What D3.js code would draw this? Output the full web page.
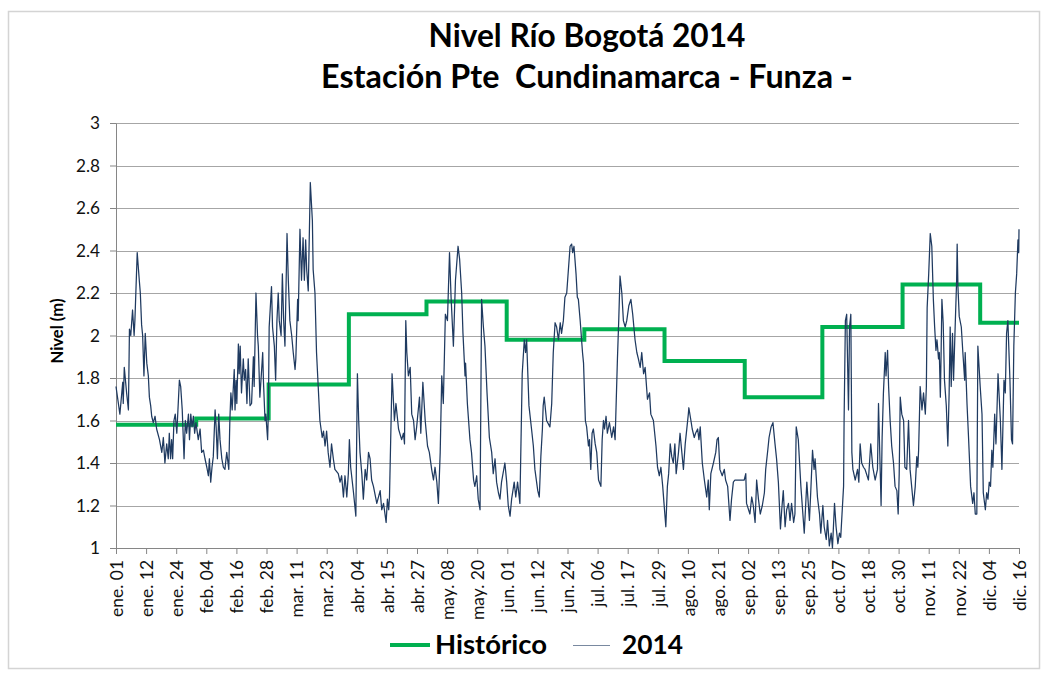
<!DOCTYPE html>
<html><head><meta charset="utf-8">
<script src="https://cdn.jsdelivr.net/npm/d3@7"></script>
<style>body{margin:0;background:#fff}svg{display:block}</style>
</head><body>
<svg id="c" width="1049" height="677"></svg>
<script>
// ---------- DATA ----------
const titleLines = ["Nivel Río Bogotá 2014", "Estación Pte  Cundinamarca - Funza -"];
const yAxisTitle = "Nivel (m)";
const yTicks = [1, 1.2, 1.4, 1.6, 1.8, 2, 2.2, 2.4, 2.6, 2.8, 3];
const xTickLabels = ["ene. 01","ene. 12","ene. 24","feb. 04","feb. 16","feb. 28","mar. 11","mar. 23",
  "abr. 04","abr. 15","abr. 27","may. 08","may. 20","jun. 01","jun. 12","jun. 24","jul. 06","jul. 17",
  "jul. 29","ago. 10","ago. 21","sep. 02","sep. 13","sep. 25","oct. 07","oct. 18","oct. 30","nov. 11",
  "nov. 22","dic. 04","dic. 16"];
const lastDay = 349; // days since 1 Jan (dic. 16)
// Histórico: monthly mean level, month start day (days since 1 Jan)
const histMonthStart = [0, 31, 59, 90, 120, 151, 181, 212, 243, 273, 304, 334];
const histLevel = [1.58, 1.61, 1.77, 2.10, 2.16, 1.98, 2.03, 1.88, 1.71, 2.04, 2.24, 2.06];
// 2014 readings: [days since 1 Jan, level m]
const serie2014 = [
[0,1.76],[1.5,1.63],[2.6,1.78],[2.8,1.68],[3.2,1.85],[4.1,1.73],[4.8,1.65],[5.2,2.03],[5.7,2.00],[6.4,2.12],
[7.0,2.00],[7.3,2.07],[8.2,2.39],[9.0,2.26],[9.4,2.20],[9.9,2.05],[10.3,2.00],[10.8,1.81],[11.3,2.01],[11.9,1.87],
[12.5,1.81],[12.9,1.71],[13.4,1.67],[13.8,1.62],[14.4,1.59],[15.1,1.62],[15.7,1.56],[16.8,1.51],[17.7,1.45],[18.3,1.52],
[18.9,1.40],[19.6,1.49],[20.2,1.42],[20.6,1.54],[21.1,1.42],[21.5,1.51],[21.9,1.42],[22.4,1.60],[22.9,1.63],[23.5,1.54],
[24.5,1.79],[25.0,1.76],[25.6,1.65],[26.3,1.42],[26.8,1.60],[27.3,1.54],[28.0,1.63],[28.4,1.51],[28.9,1.63],[29.4,1.57],
[29.9,1.62],[30.4,1.54],[30.9,1.59],[31.8,1.51],[32.5,1.56],[33.1,1.45],[33.8,1.46],[34.4,1.42],[35.1,1.38],[35.7,1.34],
[36.1,1.42],[36.6,1.31],[37.1,1.38],[37.6,1.43],[38.3,1.65],[38.7,1.57],[39.2,1.42],[39.7,1.63],[40.2,1.51],[40.9,1.42],
[41.5,1.38],[42.1,1.37],[42.8,1.45],[43.6,1.37],[44.0,1.60],[44.4,1.73],[44.9,1.65],[45.7,1.84],[46.0,1.65],[46.4,1.79],
[46.7,1.68],[47.3,1.96],[47.6,1.82],[48.0,1.95],[48.5,1.73],[49.2,1.89],[49.6,1.79],[50.1,1.84],[50.6,1.68],[51.1,1.89],
[51.8,1.67],[52.4,1.68],[53.1,1.90],[53.4,1.76],[54.1,2.20],[54.7,2.00],[55.0,1.95],[55.6,1.71],[56.3,1.84],[56.7,1.92],
[57.0,1.78],[57.6,1.60],[57.9,1.63],[58.6,1.51],[58.9,1.65],[59.2,2.04],[60.1,2.23],[60.5,2.04],[61.2,1.95],[61.7,1.79],
[62.2,2.07],[62.7,2.20],[63.1,2.07],[63.8,2.00],[64.3,2.29],[64.8,2.07],[65.3,1.95],[66.1,2.48],[66.6,2.26],[67.2,2.07],
[67.9,2.00],[68.5,1.92],[69.2,1.84],[69.5,1.89],[70.2,2.17],[70.4,2.07],[71.1,2.50],[71.7,2.26],[72.3,2.46],[72.8,2.26],
[73.3,2.45],[73.7,2.31],[74.3,2.21],[75.1,2.72],[75.9,2.54],[76.2,2.31],[76.9,2.20],[77.5,1.92],[78.8,1.60],[79.7,1.52],
[80.2,1.55],[80.8,1.48],[81.4,1.55],[82.0,1.45],[82.7,1.38],[83.3,1.49],[84.0,1.42],[84.6,1.37],[85.9,1.35],[86.6,1.31],
[87.2,1.34],[87.9,1.24],[88.5,1.34],[89.2,1.24],[89.8,1.35],[90.2,1.51],[90.7,1.38],[91.8,1.26],[92.7,1.15],[93.3,1.82],
[93.8,1.60],[94.3,1.45],[95.0,1.35],[95.6,1.23],[96.3,1.37],[96.9,1.32],[97.6,1.45],[98.2,1.42],[98.8,1.32],[99.5,1.29],
[100.8,1.21],[102.1,1.27],[102.7,1.18],[103.4,1.21],[104.4,1.12],[104.9,1.23],[105.4,1.18],[105.7,1.24],[106.7,1.82],[107.6,1.60],
[108.2,1.68],[109.2,1.56],[110.4,1.51],[111.1,1.54],[111.5,1.49],[112.0,2.07],[112.4,1.92],[113.0,1.81],[113.7,1.85],[114.3,1.63],
[115.0,1.60],[115.6,1.51],[116.2,1.57],[117.3,1.71],[117.8,1.54],[118.6,1.78],[119.5,1.60],[120.4,1.48],[121.1,1.45],[122.0,1.37],
[122.7,1.32],[123.3,1.38],[124.0,1.31],[124.6,1.21],[125.3,1.45],[125.9,1.81],[126.5,1.68],[127.3,2.10],[128.1,2.07],[128.9,2.39],
[129.5,2.18],[130.4,1.95],[131.2,2.26],[132.2,2.42],[132.8,2.36],[133.6,2.20],[134.1,2.01],[134.9,1.81],[135.1,1.87],[135.8,1.68],
[136.8,1.51],[137.4,1.45],[138.2,1.32],[138.7,1.29],[139.4,1.34],[140.0,1.23],[140.7,1.18],[141.3,2.17],[142.0,2.04],[142.6,1.95],
[143.4,1.73],[144.3,1.52],[145.2,1.45],[145.8,1.35],[146.5,1.42],[147.1,1.31],[147.8,1.26],[148.4,1.23],[149.0,1.31],[150.3,1.40],
[151.0,1.31],[151.6,1.20],[152.3,1.15],[152.9,1.23],[153.9,1.31],[154.5,1.24],[155.2,1.31],[156.1,1.21],[157.0,1.82],[157.8,1.98],
[158.3,1.92],[158.7,1.98],[159.6,1.67],[160.6,1.56],[161.3,1.48],[161.9,1.37],[163.0,1.27],[163.6,1.24],[164.2,1.43],[164.8,1.56],
[165.1,1.67],[165.5,1.71],[166.4,1.60],[167.7,1.57],[168.4,1.68],[169.0,1.92],[169.7,2.06],[170.3,2.04],[171.0,1.98],[171.7,2.06],
[172.2,2.01],[172.9,2.07],[173.5,2.18],[174.2,2.20],[175.5,2.42],[176.1,2.43],[176.5,2.39],[177.0,2.42],[177.8,2.29],[178.3,2.18],
[178.7,2.17],[179.4,2.07],[180.3,1.92],[180.7,1.87],[181.4,1.60],[181.9,1.57],[182.6,1.48],[183.0,1.51],[183.5,1.37],[184.0,1.54],
[184.5,1.56],[185.2,1.49],[185.8,1.45],[186.5,1.32],[187.4,1.29],[187.9,1.51],[188.4,1.60],[188.8,1.56],[189.4,1.62],[189.9,1.54],
[190.7,1.59],[191.6,1.52],[192.3,1.57],[192.9,1.51],[193.8,1.89],[194.3,2.07],[194.8,2.28],[195.5,2.20],[196.1,2.07],[196.8,2.04],
[197.4,2.07],[198.2,2.14],[199.0,2.17],[199.7,2.10],[200.6,1.98],[201.3,1.92],[201.9,1.89],[202.6,1.85],[203.2,1.92],[203.9,1.82],
[204.5,1.85],[205.4,1.70],[206.2,1.73],[206.7,1.63],[207.7,1.60],[208.7,1.48],[209.3,1.38],[210.0,1.34],[210.6,1.38],[211.3,1.29],
[211.8,1.21],[212.5,1.10],[213.1,1.29],[213.6,1.35],[214.2,1.49],[214.8,1.43],[215.4,1.40],[216.0,1.49],[216.5,1.35],[217.4,1.45],
[218.0,1.54],[219.3,1.37],[220.0,1.49],[221.2,1.63],[221.4,1.66],[222.2,1.60],[222.7,1.56],[223.5,1.52],[224.0,1.54],[224.8,1.56],
[225.3,1.51],[225.8,1.57],[226.6,1.40],[227.4,1.32],[228.3,1.24],[228.9,1.32],[229.3,1.18],[229.9,1.35],[230.9,1.40],[231.8,1.45],
[232.3,1.51],[232.8,1.52],[233.4,1.37],[234.3,1.34],[235.1,1.37],[235.6,1.32],[236.4,1.29],[237.3,1.13],[237.9,1.23],[238.6,1.31],
[239.2,1.32],[241.2,1.32],[242.8,1.32],[243.4,1.35],[243.7,1.21],[245.0,1.16],[245.7,1.24],[246.3,1.20],[247.0,1.12],[247.6,1.32],
[248.3,1.23],[249.0,1.16],[249.8,1.20],[250.6,1.26],[251.1,1.37],[251.9,1.46],[252.4,1.52],[253.2,1.57],[253.9,1.59],[254.7,1.49],
[255.3,1.42],[256.0,1.31],[256.8,1.09],[257.3,1.18],[257.9,1.27],[258.6,1.10],[259.2,1.18],[259.9,1.21],[260.5,1.13],[261.1,1.21],
[261.9,1.12],[262.4,1.16],[262.9,1.57],[263.7,1.51],[264.7,1.29],[266.0,1.07],[267.0,1.31],[268.0,1.13],[268.5,1.26],[269.2,1.46],
[269.8,1.37],[270.2,1.42],[271.1,1.24],[271.9,1.16],[272.4,1.07],[273.2,1.20],[273.7,1.10],[274.5,1.04],[275.0,1.13],[275.7,1.01],
[276.4,1.07],[276.9,1.00],[277.7,1.21],[278.3,1.10],[279.0,1.02],[279.6,1.07],[280.1,1.05],[280.6,1.16],[281.2,1.29],[281.4,1.60],
[281.9,2.07],[282.4,2.10],[283.1,1.65],[283.5,2.04],[284.0,2.10],[284.4,1.45],[284.8,1.37],[285.7,1.32],[286.6,1.37],[287.1,1.31],
[287.6,1.49],[288.2,1.40],[288.9,1.38],[289.5,1.37],[290.8,1.32],[291.7,1.49],[292.5,1.38],[293.4,1.32],[294.3,1.37],[294.7,1.68],
[295.7,1.20],[296.1,1.52],[296.6,1.73],[297.3,1.92],[297.6,1.81],[298.2,1.93],[298.6,1.76],[299.2,1.60],[299.8,1.48],[300.5,1.40],
[301.1,1.29],[301.8,1.27],[302.3,1.16],[302.7,1.35],[303.1,1.71],[303.7,1.63],[304.4,1.60],[304.9,1.38],[305.6,1.37],[306.3,1.60],
[306.9,1.37],[308.2,1.20],[308.9,1.29],[309.5,1.43],[309.9,1.38],[310.2,1.46],[310.8,1.76],[311.5,1.65],[312.1,1.73],[312.8,1.63],
[313.2,1.76],[313.5,2.13],[314.1,2.29],[314.7,2.48],[315.3,2.42],[315.9,2.17],[316.4,2.04],[316.9,1.93],[317.3,1.98],[317.9,1.89],
[318.2,1.92],[318.6,1.71],[318.9,1.92],[319.2,2.17],[319.7,2.06],[320.2,1.79],[320.9,1.67],[321.5,1.48],[322.0,1.73],[322.4,2.04],
[322.8,1.76],[323.3,2.01],[323.7,1.79],[324.4,2.07],[324.9,2.26],[325.1,2.43],[325.4,2.23],[325.9,2.09],[326.7,2.04],[327.3,1.92],
[328.0,1.79],[328.2,1.92],[328.9,1.68],[329.5,1.52],[330.3,1.29],[331.1,1.21],[331.6,1.26],[332.1,1.16],[332.7,1.16],[333.1,1.95],
[334.0,1.76],[334.7,1.63],[335.2,1.26],[336.0,1.18],[336.5,1.26],[337.0,1.23],[337.5,1.31],[338.0,1.29],[338.5,1.46],[338.9,1.38],
[339.6,1.63],[340.1,1.49],[340.9,1.82],[341.8,1.60],[342.4,1.37],[343.2,1.79],[343.7,1.73],[344.2,2.01],[344.7,2.07],[345.5,1.79],
[346.1,1.51],[346.5,1.49],[347.0,1.95],[347.6,2.20],[348.1,2.29],[348.6,2.45],[348.9,2.39],[349.0,2.50]
];
const legendLabels = ["Histórico", "2014"];

// ---------- CHART ----------
const svg = d3.select("#c");
const font = "Lato, 'Open Sans', sans-serif";
const L = 116, R = 1019, T = 123, B = 548;
const x = d3.scaleLinear().domain([0, lastDay]).range([L, R]);
const y = d3.scaleLinear().domain([1, 3]).range([B, T]);
const xt = d3.scalePoint().domain(xTickLabels).range([L, R]);

function fit(sel, w) {
  const s = +sel.attr("font-size");
  const l = sel.node().getComputedTextLength();
  sel.attr("font-size", (s * w / l).toFixed(2));
}

// outer chart border
svg.append("rect").attr("x", 8.5).attr("y", 11.5).attr("width", 1031).attr("height", 657)
  .attr("fill", "none").attr("stroke", "#d4d4d4").attr("stroke-width", 1.5);

// gridlines
svg.append("g").selectAll("line").data(yTicks.filter(v => v > 1)).join("line")
  .attr("x1", L).attr("x2", R)
  .attr("y1", d => Math.round(y(d)) + 0.5).attr("y2", d => Math.round(y(d)) + 0.5)
  .attr("stroke", "#a6a6a6").attr("stroke-width", 1);

// y axis
const ya = svg.append("g").attr("transform", `translate(${L},0)`)
  .call(d3.axisLeft(y).tickValues(yTicks).tickFormat(d => String(d)).tickSize(6).tickSizeOuter(0).tickPadding(10));
ya.select(".domain").attr("stroke", "#868686");
ya.selectAll(".tick line").attr("stroke", "#868686");
ya.selectAll("text").attr("font-family", font).attr("font-size", 17).attr("fill", "#111");
fit(ya.selectAll("text").filter(d => d === 2.8), 24);
const yfs = ya.selectAll("text").filter(d => d === 2.8).attr("font-size");
ya.selectAll("text").attr("font-size", yfs);

// x axis
const xa = svg.append("g").attr("transform", `translate(0,${B})`)
  .call(d3.axisBottom(xt).tickSize(6).tickSizeOuter(0));
xa.select(".domain").attr("stroke", "#868686");
xa.selectAll(".tick line").attr("stroke", "#868686");
xa.selectAll("text").attr("font-family", font).attr("font-size", 17).attr("fill", "#111")
  .attr("transform", "rotate(-90)").attr("text-anchor", "end")
  .attr("x", -12).attr("y", 0).attr("dy", "0.36em");
fit(xa.select(".tick text"), 57);
const xfs = xa.select(".tick text").attr("font-size");
xa.selectAll("text").attr("font-size", xfs);

// historical step line
const histPts = histMonthStart.map((d, i) => [d, histLevel[i]]).concat([[lastDay, histLevel[histLevel.length - 1]]]);
svg.append("path").datum(histPts)
  .attr("d", d3.line().x(d => x(d[0])).y(d => y(d[1])).curve(d3.curveStepAfter))
  .attr("fill", "none").attr("stroke", "#00b050").attr("stroke-width", 4);

// 2014 series
svg.append("path").datum(serie2014)
  .attr("d", d3.line().x(d => x(d[0])).y(d => y(d[1])))
  .attr("fill", "none").attr("stroke", "#1f3a60").attr("stroke-width", 1.25).attr("stroke-linejoin", "round");

// titles
const t1 = svg.append("text").attr("x", 587).attr("y", 47).attr("text-anchor", "middle")
  .attr("font-family", font).attr("font-weight", "bold").attr("font-size", 29).attr("fill", "#000").text(titleLines[0]);
fit(t1, 317);
const t2 = svg.append("text").attr("x", 587).attr("y", 88).attr("text-anchor", "middle")
  .style("white-space", "pre").attr("xml:space", "preserve")
  .attr("font-family", font).attr("font-weight", "bold").attr("font-size", 29).attr("fill", "#000").text(titleLines[1]);
fit(t2, 532);

// y axis title
const yt = svg.append("text").attr("transform", "translate(63,331) rotate(-90)").attr("text-anchor", "middle")
  .attr("font-family", font).attr("font-weight", "bold").attr("font-size", 15).attr("fill", "#000").text(yAxisTitle);
fit(yt, 65);

// legend
const lg = svg.append("g");
lg.append("line").attr("x1", 390).attr("x2", 430).attr("y1", 645).attr("y2", 645)
  .attr("stroke", "#00b050").attr("stroke-width", 4);
const l1 = lg.append("text").attr("x", 435).attr("y", 654).attr("font-family", font).attr("font-weight", "bold")
  .attr("font-size", 25).attr("fill", "#000").text(legendLabels[0]);
fit(l1, 112);
lg.append("line").attr("x1", 573).attr("x2", 610).attr("y1", 645.5).attr("y2", 645.5)
  .attr("stroke", "#1f3a60").attr("stroke-width", 1).attr("stroke-opacity", 0.6);
const l2 = lg.append("text").attr("x", 622).attr("y", 654).attr("font-family", font).attr("font-weight", "bold")
  .attr("font-size", 25).attr("fill", "#000").text(legendLabels[1]);
fit(l2, 61);
</script>
</body></html>
